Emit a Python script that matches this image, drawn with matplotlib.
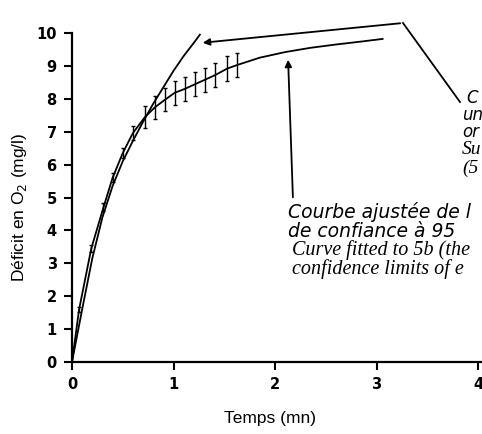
import matplotlib
matplotlib.use("Agg")
import matplotlib.pyplot as plt
import numpy as np

# Fitted curve (with 95% confidence bars)
fit_x = [0.0, 0.07, 0.19, 0.31, 0.40, 0.50, 0.60, 0.72, 0.82, 0.92, 1.01, 1.11, 1.21,
         1.31, 1.41, 1.53, 1.63, 1.85, 2.10, 2.35, 2.60, 2.85, 3.06]
fit_y = [0.0, 1.60, 3.45, 4.70, 5.60, 6.35, 6.96, 7.45, 7.75, 7.98, 8.18, 8.30, 8.44,
         8.58, 8.72, 8.92, 9.03, 9.25, 9.42, 9.55, 9.65, 9.74, 9.82]

# Error bars (centres and half-widths)
bar_x = [0.07, 0.19, 0.31, 0.40, 0.50, 0.60, 0.72, 0.82, 0.92, 1.01, 1.11, 1.21,
         1.31, 1.41, 1.53, 1.63]
bar_y = [1.60, 3.45, 4.70, 5.60, 6.35, 6.96, 7.45, 7.75, 7.98, 8.18, 8.30, 8.44,
         8.58, 8.72, 8.92, 9.03]
bar_err = [0.08, 0.10, 0.12, 0.14, 0.15, 0.22, 0.33, 0.35, 0.36, 0.36, 0.36, 0.37,
           0.37, 0.37, 0.37, 0.37]

# Steeper curve
steep_x = [0.0, 0.1, 0.2, 0.3, 0.4, 0.5, 0.6, 0.7, 0.8, 0.9, 1.0, 1.1, 1.2, 1.26]
steep_y = [0.0, 1.60, 3.15, 4.40, 5.35, 6.10, 6.72, 7.30, 7.85, 8.35, 8.85, 9.30, 9.70, 9.95]

x_ticks = [0, 1, 2, 3, 4]
y_ticks = list(range(0, 11))

W, H = 482, 434
fig = plt.figure(figsize=(W / 100, H / 100), dpi=100)
x0_px, y0_px = 72, 362
x_unit, y_unit = 101.5, 32.9
ax = fig.add_axes([x0_px / W, 1 - y0_px / H, (W - x0_px) / W, 10 * y_unit / H])
ax.set_xlim(0, (W - x0_px) / x_unit)
ax.set_ylim(0, 10)

lc = "black"
ax.plot(fit_x, fit_y, color=lc, lw=1.3, clip_on=False)
ax.plot(steep_x, steep_y, color=lc, lw=1.3, clip_on=False)
ax.errorbar(bar_x, bar_y, yerr=bar_err, fmt="none", ecolor=lc, elinewidth=1.0,
            capsize=1.5, capthick=1.0)

for s in ["top", "right"]:
    ax.spines[s].set_visible(False)
for s in ["left", "bottom"]:
    ax.spines[s].set_linewidth(1.6)

ax.set_xticks(x_ticks)
ax.set_yticks(y_ticks)
ax.tick_params(direction="out", length=6, width=1.5, labelsize=10.5, pad=5)
for lab in ax.get_xticklabels() + ax.get_yticklabels():
    lab.set_fontweight("bold")
    lab.set_family("DejaVu Sans")

fig.text(20 / W, 1 - 207 / H, "Déficit en O$_2$ (mg/l)", fontsize=12.5,
         family="Liberation Sans", rotation=90, ha="center", va="center")
fig.text(270 / W, 1 - 418 / H, "Temps (mn)", fontsize=12.5,
         family="Liberation Sans", ha="center", va="center")

def d(px, py):
    return ((px - x0_px) / x_unit, (y0_px - py) / y_unit)

# Annotation 1 (polyline with arrow)
p1, p2, p3 = d(460, 102), d(403, 23), d(200, 43)
ax.plot([p1[0], p2[0]], [p1[1], p2[1]], color=lc, lw=1.3, clip_on=False)
ax.annotate("", xy=p3, xytext=p2, xycoords="data", annotation_clip=False,
            arrowprops=dict(arrowstyle="-|>", color=lc, lw=1.3, mutation_scale=10))

# Annotation 2 (vertical arrow)
q1, q2 = d(293, 200), d(288, 57)
ax.annotate("", xy=q2, xytext=q1, xycoords="data", annotation_clip=False,
            arrowprops=dict(arrowstyle="-|>", color=lc, lw=1.3, mutation_scale=10))

fr = dict(family="DejaVu Sans", style="oblique", fontsize=13.5, color=lc)
en = dict(family="Liberation Serif", style="italic", fontsize=14.5, color=lc)

def t(px, py, s, props):
    x, y = d(px, py)
    ax.text(x, y, s, va="center", ha="left", clip_on=False, **props)

t(466, 98, "C", dict(fr, fontsize=12))
t(462, 115, "un", dict(fr, fontsize=12))
t(462, 132, "or", dict(fr, fontsize=12))
t(462, 150, "Su", dict(en, fontsize=14))
t(462, 168, "(5", dict(en, fontsize=14))

t(288, 212, "Courbe ajustée de l", fr)
t(288, 231, "de confiance à 95", fr)
t(292, 250, "Curve fitted to 5b (the", en)
t(292, 269, "confidence limits of e", en)

fig.savefig("out.png", dpi=100)
